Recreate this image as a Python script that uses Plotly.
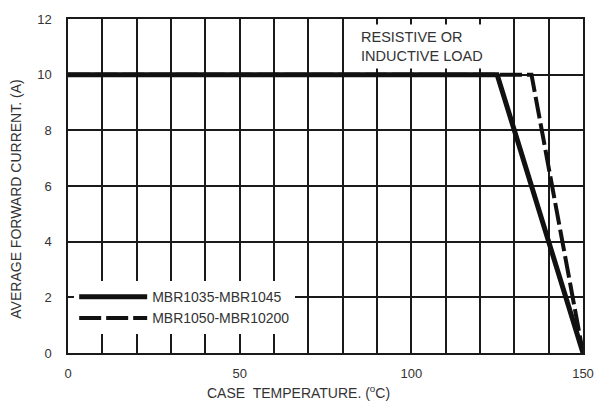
import plotly.graph_objects as go

# Data
temp_mbr1035 = [0, 125, 150]
current_mbr1035 = [10, 10, 0]
temp_mbr1050 = [0, 135, 150]
current_mbr1050 = [10, 10, 0]
series_names = ["MBR1035-MBR1045", "MBR1050-MBR10200"]
x_tick_vals = [0, 50, 100, 150]
y_tick_vals = [0, 2, 4, 6, 8, 10, 12]

FONT = "Liberation Sans, Arial, sans-serif"
TXT = "#333333"
GRID = "#1a1a1a"

fig = go.Figure()
fig.add_trace(go.Scatter(
    x=temp_mbr1050, y=current_mbr1050, mode="lines", name=series_names[1],
    line=dict(color="#111111", width=4, dash="22px,5px"), legendrank=2))
fig.add_trace(go.Scatter(
    x=temp_mbr1035, y=current_mbr1035, mode="lines", name=series_names[0],
    line=dict(color="#111111", width=5), legendrank=1))

fig.add_annotation(
    x=84, y=11.0, xref="x", yref="y", xanchor="left", yanchor="middle",
    text="RESISTIVE OR<br>INDUCTIVE LOAD", showarrow=False, align="left",
    font=dict(family=FONT, size=14.5, color=TXT), bgcolor="white", borderpad=4)

fig.add_annotation(
    x=0.447, y=-0.117, xref="paper", yref="paper", xanchor="center", yanchor="middle",
    text="CASE  TEMPERATURE. (<sup>o</sup>C)", showarrow=False,
    font=dict(family=FONT, size=14, color=TXT))
fig.add_annotation(
    x=-0.101, y=0.462, xref="paper", yref="paper", xanchor="center", yanchor="middle",
    text="AVERAGE FORWARD CURRENT. (A)", showarrow=False, textangle=-90,
    font=dict(family=FONT, size=14, color=TXT))

fig.update_layout(
    width=606, height=403,
    margin=dict(l=68, r=14, t=19, b=50),
    paper_bgcolor="white", plot_bgcolor="white",
    font=dict(family=FONT, size=13, color=TXT),
    showlegend=True,
    legend=dict(x=0.012, y=0.215, xanchor="left", yanchor="top",
                bgcolor="white", itemwidth=68, tracegroupgap=0,
                font=dict(family=FONT, size=14, color=TXT)),
    xaxis=dict(range=[0, 150], tickvals=x_tick_vals, showgrid=True,
               gridcolor=GRID, gridwidth=1.5,
               minor=dict(dtick=10, showgrid=True, gridcolor=GRID, gridwidth=1.5),
               showline=True, linecolor=GRID, linewidth=1.5, mirror=True,
               zeroline=False, ticks="", ticklabelstandoff=8,
               tickfont=dict(family=FONT, size=13, color=TXT)),
    yaxis=dict(range=[0, 12], tickvals=y_tick_vals, showgrid=True,
               gridcolor=GRID, gridwidth=1.5,
               showline=True, linecolor=GRID, linewidth=1.5, mirror=True,
               zeroline=False, ticks="", ticklabelstandoff=12,
               tickfont=dict(family=FONT, size=13, color=TXT)),
)

fig.write_html("out.html")
